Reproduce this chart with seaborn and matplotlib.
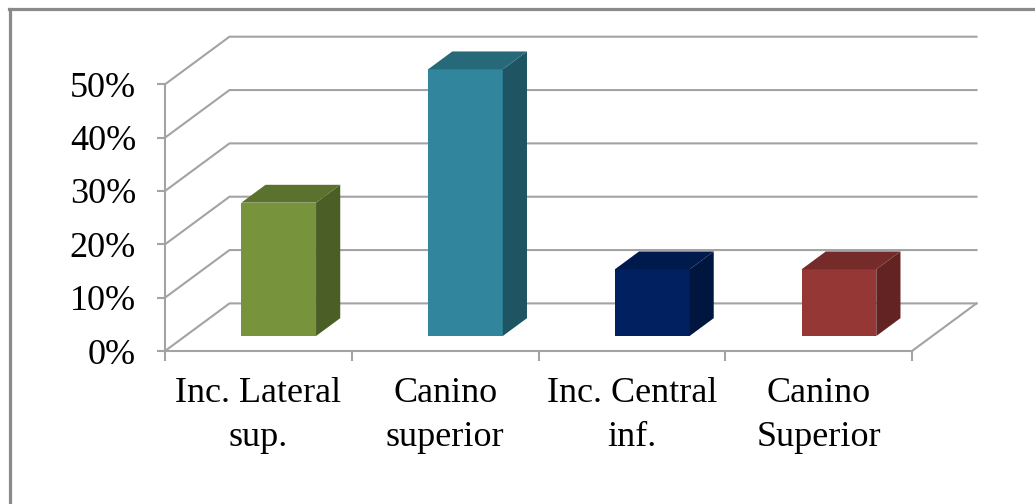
import matplotlib
matplotlib.use("Agg")
import matplotlib.pyplot as plt
import seaborn as sns
import pandas as pd
from matplotlib.patches import Polygon
from matplotlib.lines import Line2D

# ---- data ----
categories = ["Inc. Lateral\nsup.", "Canino\nsuperior", "Inc. Central\ninf.", "Canino\nSuperior"]
values = [25, 50, 12.5, 12.5]
y_ticks = [0, 10, 20, 30, 40, 50]
y_tick_labels = ["0%", "10%", "20%", "30%", "40%", "50%"]
front_colors = ["#77933C", "#31859C", "#002060", "#953735"]
top_colors = ["#5B722E", "#266979", "#001A4D", "#742B29"]
side_colors = ["#4B5E25", "#1F5463", "#00163F", "#622322"]

plt.rcParams["font.family"] = ["Liberation Serif", "DejaVu Serif"]

W, H = 1035, 504
fig = plt.figure(figsize=(W / 100, H / 100), dpi=100)
fig.patch.set_facecolor("white")

# front plane of the 3D box, in pixels
x_left, x_right, y_bottom, y_top = 165, 912, 351, 84.3
ax = fig.add_axes([x_left / W, (H - y_bottom) / H, (x_right - x_left) / W, (y_bottom - y_top) / H])

df = pd.DataFrame({"cat": categories, "val": values})
sns.barplot(data=df, x="cat", y="val", hue="cat", palette=front_colors,
            width=0.40, saturation=1, legend=False, ax=ax, zorder=3)

ax.set_xlim(-0.5, 3.5)
ax.set_ylim(0, 50)

# depth offsets (data units)
px_per_cat = (x_right - x_left) / 4
px_per_pct = (y_bottom - y_top) / 50
DX = 64.5 / px_per_cat
DY = 47.6 / px_per_pct
TF, TB = 0.315, 0.69  # bar front / back depth fractions

grid_c = "#A3A3A3"
# back wall gridlines and side wall diagonals
for v in y_ticks:
    ax.plot([-0.5, -0.5 + DX, 3.5 + DX], [v, v + DY, v + DY], color=grid_c,
            lw=1.5, clip_on=False, zorder=1, solid_joinstyle="miter")
# floor right edge
ax.plot([3.5, 3.5 + DX], [0, DY], color=grid_c, lw=1.5, clip_on=False, zorder=1)

# 3D bars
dd_x = (TB - TF) * DX
dd_y = (TB - TF) * DY
for p in list(ax.patches):
    idx = int(round(p.get_x() + p.get_width() / 2))
    h = p.get_height()
    x0 = p.get_x() + TF * DX
    y0 = TF * DY
    p.set_x(x0)
    p.set_y(y0)
    p.set_linewidth(0)
    p.set_clip_on(False)
    x1 = x0 + p.get_width()
    side = Polygon([(x1, y0), (x1, y0 + h), (x1 + dd_x, y0 + h + dd_y), (x1 + dd_x, y0 + dd_y)],
                   closed=True, facecolor=side_colors[idx], edgecolor="none", clip_on=False, zorder=3)
    top = Polygon([(x0, y0 + h), (x1, y0 + h), (x1 + dd_x, y0 + h + dd_y), (x0 + dd_x, y0 + h + dd_y)],
                  closed=True, facecolor=top_colors[idx], edgecolor="none", clip_on=False, zorder=3)
    ax.add_patch(side)
    ax.add_patch(top)

# axes styling
ax.set_facecolor("none")
for s in ["top", "right"]:
    ax.spines[s].set_visible(False)
for s in ["left", "bottom"]:
    ax.spines[s].set_color(grid_c)
    ax.spines[s].set_linewidth(1.5)
    ax.spines[s].set_zorder(2)

ax.set_yticks(y_ticks)
ax.set_yticklabels(y_tick_labels)
ax.tick_params(axis="y", which="major", length=5.8, width=1.5, color=grid_c,
               labelsize=26, pad=15, labelcolor="black")

ax.set_xticks([-0.5, 0.5, 1.5, 2.5, 3.5])
ax.set_xticklabels([""] * 5)
ax.set_xticks([0, 1, 2, 3], minor=True)
ax.set_xticklabels(categories, minor=True, linespacing=1.42)
ax.tick_params(axis="x", which="major", length=7.5, width=1.5, color=grid_c)
ax.tick_params(axis="x", which="minor", length=0, labelsize=26, pad=19, labelcolor="black")
ax.set_xlabel("")
ax.set_ylabel("")

# outer frame (left and top edges visible)
frame_c = "#8A8A8A"
fig.add_artist(Line2D([9.5 / W, 9.5 / W], [0, 1 - 8.5 / H], transform=fig.transFigure,
                      color=frame_c, lw=2.3))
fig.add_artist(Line2D([8.5 / W, 1], [1 - 8.5 / H, 1 - 8.5 / H], transform=fig.transFigure,
                      color=frame_c, lw=2.3))

fig.savefig("out.png", dpi=100)
